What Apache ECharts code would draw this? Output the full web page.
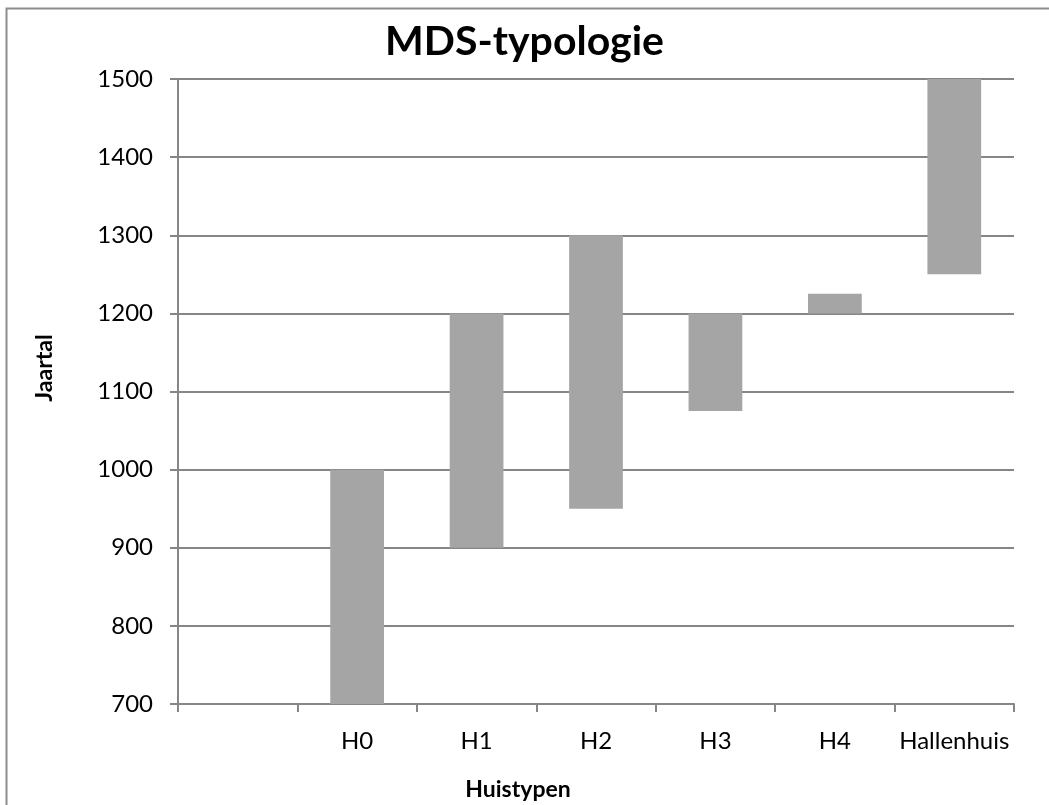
<!DOCTYPE html>
<html>
<head>
<meta charset="utf-8">
<script src="https://cdn.jsdelivr.net/npm/echarts@6/dist/echarts.min.js"></script>
<style>
html,body{margin:0;padding:0;background:#fff;}
#c{width:1049px;height:805px;}
</style>
</head>
<body>
<div id="c"></div>
<script>
const categories = ['', 'H0', 'H1', 'H2', 'H3', 'H4', 'Hallenhuis'];
const startYear = [null, 700, 900, 950, 1075, 1200, 1250];
const endYear = [null, 1000, 1200, 1300, 1200, 1225, 1500];
const yTicks = { min: 700, max: 1500, interval: 100 };
const titleText = 'MDS-typologie';
const xName = 'Huistypen';
const yName = 'Jaartal';

const span = endYear.map((e, i) => (e == null ? null : e - startYear[i]));
const FONT = 'Lato, Carlito, "Liberation Sans", sans-serif';

const chart = echarts.init(document.getElementById('c'), null, { renderer: 'canvas' });
chart.setOption({
  animation: false,
  backgroundColor: '#fff',
  title: {
    text: titleText,
    left: 'center',
    top: 16,
    textStyle: { fontFamily: FONT, fontSize: 41, fontWeight: 'bold', color: '#000' }
  },
  graphic: [
    {
      type: 'rect',
      shape: { x: 6.5, y: 8.5, width: 1200, height: 1000 },
      style: { fill: 'none', stroke: '#8c8c8c', lineWidth: 2 },
      silent: true
    },
    {
      type: 'text',
      x: 518, y: 790,
      style: { text: xName, fontFamily: FONT, fontSize: 23, fontWeight: 'bold', fill: '#000', align: 'center', verticalAlign: 'middle' },
      silent: true
    },
    {
      type: 'text',
      x: 45, y: 368,
      rotation: Math.PI / 2,
      style: { text: yName, fontFamily: FONT, fontSize: 23, fontWeight: 'bold', fill: '#000', align: 'center', verticalAlign: 'middle' },
      silent: true
    }
  ],
  grid: { left: 178, right: 35, top: 79, bottom: 101, containLabel: false },
  xAxis: {
    type: 'category',
    data: categories,
    axisLine: { lineStyle: { color: '#868686', width: 2 } },
    axisTick: { show: true, length: 8, lineStyle: { color: '#868686', width: 2 } },
    axisLabel: { fontFamily: FONT, fontSize: 24, color: '#000', margin: 25, interval: 0 }
  },
  yAxis: {
    type: 'value',
    min: yTicks.min,
    max: yTicks.max,
    interval: yTicks.interval,
    axisLine: { show: true, lineStyle: { color: '#868686', width: 2 } },
    axisTick: { show: true, length: 8, lineStyle: { color: '#868686', width: 2 } },
    splitLine: { show: true, lineStyle: { color: '#868686', width: 2 } },
    axisLabel: { fontFamily: FONT, fontSize: 24, color: '#000', margin: 25, formatter: v => String(v) }
  },
  series: [
    {
      type: 'bar',
      stack: 'range',
      data: startYear,
      itemStyle: { color: 'transparent' },
      barWidth: '45%',
      silent: true
    },
    {
      type: 'bar',
      stack: 'range',
      data: span,
      itemStyle: { color: '#a5a5a5' },
      barWidth: '45%'
    }
  ]
});
</script>
</body>
</html>
